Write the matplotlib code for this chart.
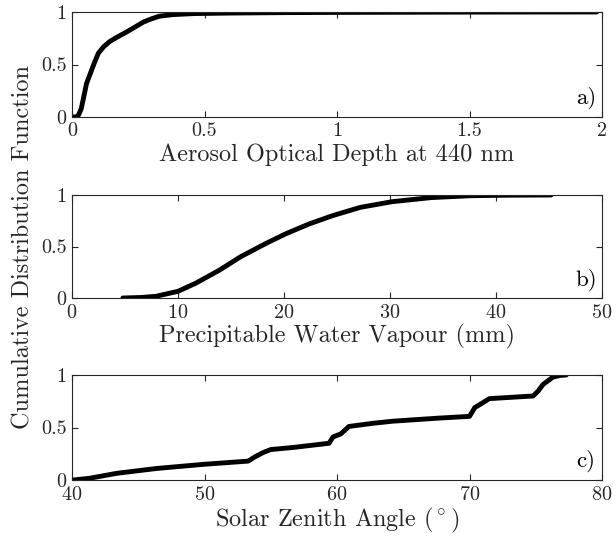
import numpy as np
import matplotlib.pyplot as plt

plt.rcParams['font.family'] = 'serif'
plt.rcParams['font.serif'] = ['cmr10']
plt.rcParams['mathtext.fontset'] = 'cm'
plt.rcParams['axes.formatter.use_mathtext'] = True

# CDF of aerosol optical depth at 440 nm
aod = [0.0, 0.015, 0.025, 0.035, 0.045, 0.055, 0.07, 0.085, 0.1, 0.12, 0.143,
       0.17, 0.206, 0.24, 0.27, 0.3, 0.33, 0.38, 0.46, 0.6, 0.8, 1.0, 1.5, 1.98]
aod_cdf = [0.0, 0.0, 0.02, 0.08, 0.2, 0.32, 0.42, 0.52, 0.61, 0.67, 0.72,
           0.76, 0.81, 0.86, 0.905, 0.935, 0.96, 0.975, 0.985, 0.99, 0.994,
           0.996, 0.999, 1.0]

# CDF of precipitable water vapour (mm)
pwv = [4.8, 6.5, 7.9, 10.0, 11.7, 13.9, 15.9, 18.3, 20.2, 22.4, 24.6, 27.2,
       30.2, 33.9, 37.6, 41.0, 45.2]
pwv_cdf = [0.0, 0.005, 0.016, 0.065, 0.145, 0.27, 0.40, 0.53, 0.625, 0.72,
           0.80, 0.88, 0.935, 0.975, 0.993, 0.998, 1.0]

# CDF of solar zenith angle (deg)
sza = [40.1, 41.3, 43.4, 46.4, 50.0, 53.3, 53.8, 54.4, 55.0, 56.7, 59.4, 59.7,
       60.3, 60.9, 62.7, 64.2, 67.75, 70.0, 70.4, 70.8, 71.5, 74.8, 75.2, 75.55,
       76.3, 76.8, 77.3]
sza_cdf = [0.0, 0.016, 0.064, 0.11, 0.15, 0.18, 0.22, 0.26, 0.29, 0.31, 0.35,
           0.41, 0.44, 0.51, 0.54, 0.56, 0.59, 0.606, 0.69, 0.72, 0.775, 0.80,
           0.85, 0.91, 0.98, 0.995, 1.0]

panels = [
    (aod, aod_cdf, (0, 2), [0, 0.5, 1, 1.5, 2], ['0', '0.5', '1', '1.5', '2'],
     'Aerosol Optical Depth at 440 nm', 'a)'),
    (pwv, pwv_cdf, (0, 50), [0, 10, 20, 30, 40, 50], None,
     'Precipitable Water Vapour (mm)', 'b)'),
    (sza, sza_cdf, (40, 80), [40, 50, 60, 70, 80], None,
     r'Solar Zenith Angle ($^\circ$)', 'c)'),
]

fig = plt.figure(figsize=(6.16, 5.51), dpi=100)
W, H = 616, 551
tops = [12, 195, 375]
bottoms = [117, 298, 480]
gray = '#262626'

for (x, y, xlim, xt, xtl, xlab, tag), t, b in zip(panels, tops, bottoms):
    ax = fig.add_axes([72 / W, 1 - b / H, 530 / W, (b - t) / H])
    ax.plot(x, y, color='k', lw=3.5, solid_capstyle='round')
    ax.set_xlim(*xlim)
    ax.set_ylim(0, 1)
    ax.set_xticks(xt)
    if xtl:
        ax.set_xticklabels(xtl)
    ax.set_yticks([0, 0.5, 1])
    ax.set_yticklabels(['0', '0.5', '1'])
    ax.tick_params(direction='in', top=True, right=True, length=4,
                   width=0.8, labelsize=14.5, colors=gray, pad=4)
    for s in ax.spines.values():
        s.set_color(gray)
        s.set_linewidth(0.8)
    ax.set_xlabel(xlab, fontsize=17.5, color=gray, labelpad=2)
    ax.text(0.97, 0.18, tag, transform=ax.transAxes, fontsize=16.5,
            ha='center', va='center', color='k')

fig.text(23 / W, 1 - 247 / H, 'Cumulative Distribution Function',
         rotation=90, ha='center', va='center', fontsize=17.5, color=gray)

fig.savefig('out.png', dpi=100)
